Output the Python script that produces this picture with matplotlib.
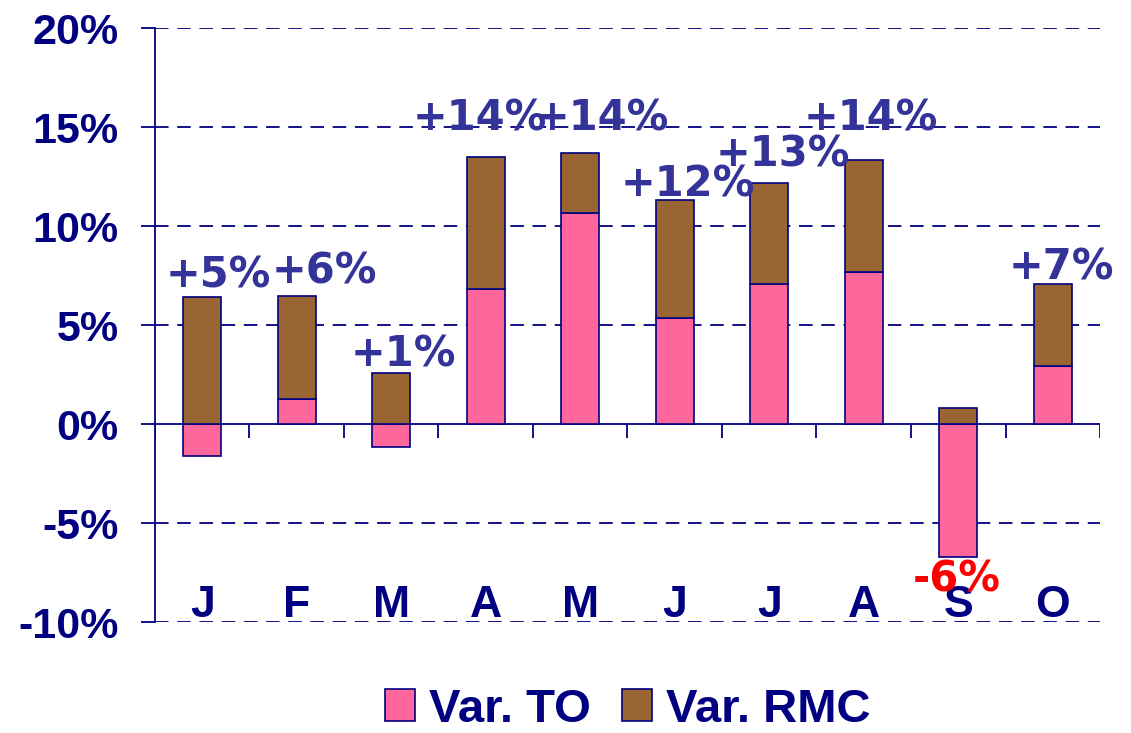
import numpy as np
import matplotlib.pyplot as plt

# monthly variation data (%)
months = ['J', 'F', 'M', 'A', 'M', 'J', 'J', 'A', 'S', 'O']
var_to = [-1.6, 1.25, -1.15, 6.8, 10.65, 5.35, 7.05, 7.7, -6.7, 2.95]
var_rmc = [6.4, 5.2, 2.6, 6.7, 3.05, 5.95, 5.1, 5.65, 0.8, 4.1]
labels = ['+5%', '+6%', '+1%', '+14%', '+14%', '+12%', '+13%', '+14%', '-6%', '+7%']

# label placement (layout only)
lab_dx = [0.17, 0.29, 0.13, -0.06, 0.23, 0.14, 0.14, 0.08, -0.02, 0.09]
lab_y = [7.5, 7.7, 3.5, 15.45, 15.45, 12.1, 13.6, 15.45, -7.85, 7.9]

navy = '#000080'
pink = '#FF6699'
brown = '#996633'
lab_col = '#333399'

fig = plt.figure(figsize=(11.31, 7.33), dpi=100)
ax = fig.add_axes([0.137, 0.1514, 0.8356, 0.8104])

x = np.arange(len(months))
to = np.array(var_to)
rmc = np.array(var_rmc)
base = np.where(to > 0, to, 0)

ax.bar(x, to, width=0.40, color=pink, edgecolor=navy, linewidth=1.2, label='Var. TO', zorder=3)
ax.bar(x, rmc, bottom=base, width=0.40, color=brown, edgecolor=navy, linewidth=1.2, label='Var. RMC', zorder=3)

ax.set_xlim(-0.5, 9.5)
ax.set_ylim(-10, 20)

# grid
for yv in [20, 15, 10, 5, -5, -10]:
    ax.axhline(yv, color=navy, lw=1.3, linestyle=(0, (7.5, 4.8)), zorder=1)
ax.axhline(0, color=navy, lw=1.3, zorder=2)
ax.vlines(np.arange(-0.5, 10), -0.7, 0, color=navy, lw=1.3, zorder=2)

for s in ['top', 'right', 'bottom']:
    ax.spines[s].set_visible(False)
ax.spines['left'].set_color(navy)
ax.spines['left'].set_linewidth(1.3)

ax.set_yticks([-10, -5, 0, 5, 10, 15, 20])
ax.set_yticklabels([f'{v}%' for v in [-10, -5, 0, 5, 10, 15, 20]])
ax.tick_params(axis='y', length=10, width=1.3, color=navy, labelcolor=navy, pad=16)
for t in ax.get_yticklabels():
    t.set_fontfamily('Liberation Sans')
    t.set_fontweight('bold')
    t.set_fontsize(31)
ax.set_xticks([])

for i, m in enumerate(months):
    ax.text(i, -9.15, m, ha='center', va='center', color=navy,
            fontsize=32, fontweight='bold', family='Liberation Sans', zorder=4)

for i, lab in enumerate(labels):
    c = 'red' if lab.startswith('-') else lab_col
    ax.text(i + lab_dx[i], lab_y[i], lab, ha='center', va='center', color=c,
            fontsize=30, fontweight='heavy', family='DejaVu Sans', zorder=5)

leg = fig.legend(loc='center', bbox_to_anchor=(0.555, 0.032), ncol=2, frameon=False,
                 handlelength=0.64, handleheight=0.64, handletextpad=0.3, columnspacing=0.65,
                 borderpad=0.2, prop={'family': 'Liberation Sans', 'weight': 'bold', 'size': 34})
for t in leg.get_texts():
    t.set_color(navy)

fig.savefig('out.png', dpi=100)
